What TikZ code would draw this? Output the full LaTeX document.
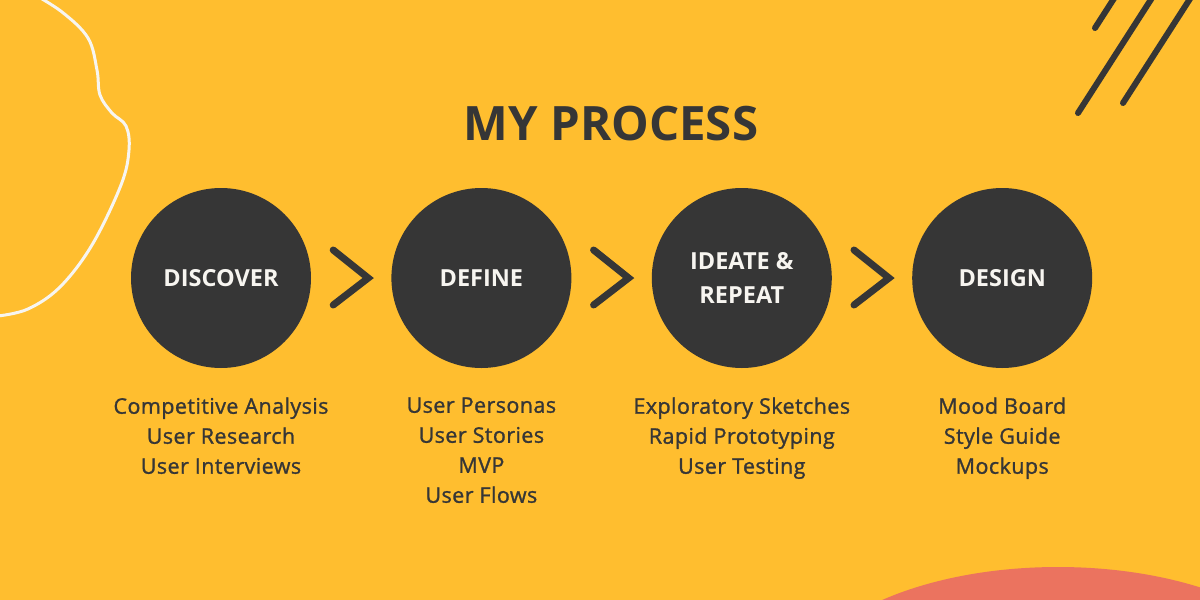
\documentclass[tikz,border=0pt]{standalone}
\usepackage{fontspec}
\setmainfont{Open Sans}
\newfontfamily\taskfont{Open Sans}[FakeBold=1.2,LetterSpace=2]
\usetikzlibrary{positioning}
\definecolor{bgyellow}{HTML}{FFBE2F}
\definecolor{darkgrey}{HTML}{363636}
\definecolor{coral}{HTML}{EB735F}
\definecolor{offwhite}{HTML}{F7F5F0}
\tikzstyle{step circle} = [circle,fill=darkgrey,text=offwhite,minimum size=180pt,inner sep=0pt,align=center,font=\bfseries\fontsize{23.5}{34}\selectfont]
\tikzstyle{tasks} = [align=center,text=darkgrey,inner sep=0pt,font=\taskfont\fontsize{21.5}{30}\selectfont]
\tikzstyle{chevron} = [darkgrey,line width=7pt,line cap=round,line join=miter]

\begin{document}
\begin{tikzpicture}[x=1pt,y=-1pt]
					\fill[bgyellow] (0,0) rectangle (1200,600);
					\useasboundingbox (0,0) rectangle (1200,600);
					
					%Decorations
					\begin{scope}
					\clip (0,0) rectangle (1200,600);
					\draw[offwhite,line width=3pt] plot[smooth,tension=0.6] coordinates {(30,-8) (62,12) (88,38) (97,70) (100,95) (112,113) (126,126) (129,150) (121,185) (92,245) (60,287) (28,309) (-2,316)};
					\fill[coral] (1058,698) ellipse (265pt and 131pt);
					\foreach \x/\y/\len in {1095/28/45, 1078/113/140, 1123/103/125}
						\draw[darkgrey,line width=6pt,line cap=round] (\x,\y) -- ++(0.54*\len,-0.84*\len);
					\end{scope}
					
					%Title
					\node[text=darkgrey,font=\bfseries\fontsize{47.4}{48}\selectfont] (title) at (611,124) {MY PROCESS};
					
					%Nodes
					\node[step circle] (discover) at (221,278) {DISCOVER};
					\node[step circle, right=80pt of discover] (define) {DEFINE};
					\node[step circle, right=80pt of define] (ideate) {IDEATE \&\\REPEAT};
					\node[step circle, right=80pt of ideate] (design) {DESIGN};
					
					\node[tasks, below=29pt of discover] (discoverTasks) {Competitive Analysis\\User Research\\User Interviews};
					\node[tasks, below=29pt of define] (defineTasks) {User Personas\\User Stories\\MVP\\User Flows};
					\node[tasks, below=29pt of ideate] (ideateTasks) {Exploratory Sketches\\Rapid Prototyping\\User Testing};
					\node[tasks, below=29pt of design] (designTasks) {Mood Board\\Style Guide\\Mockups};
					
					%Chevrons
					\foreach \a in {discover,define,ideate}
						\draw[chevron] ([xshift=22pt,yshift=28pt]\a.east) -- ([xshift=57pt]\a.east) -- ([xshift=22pt,yshift=-27pt]\a.east);
				\end{tikzpicture}
\end{document}
